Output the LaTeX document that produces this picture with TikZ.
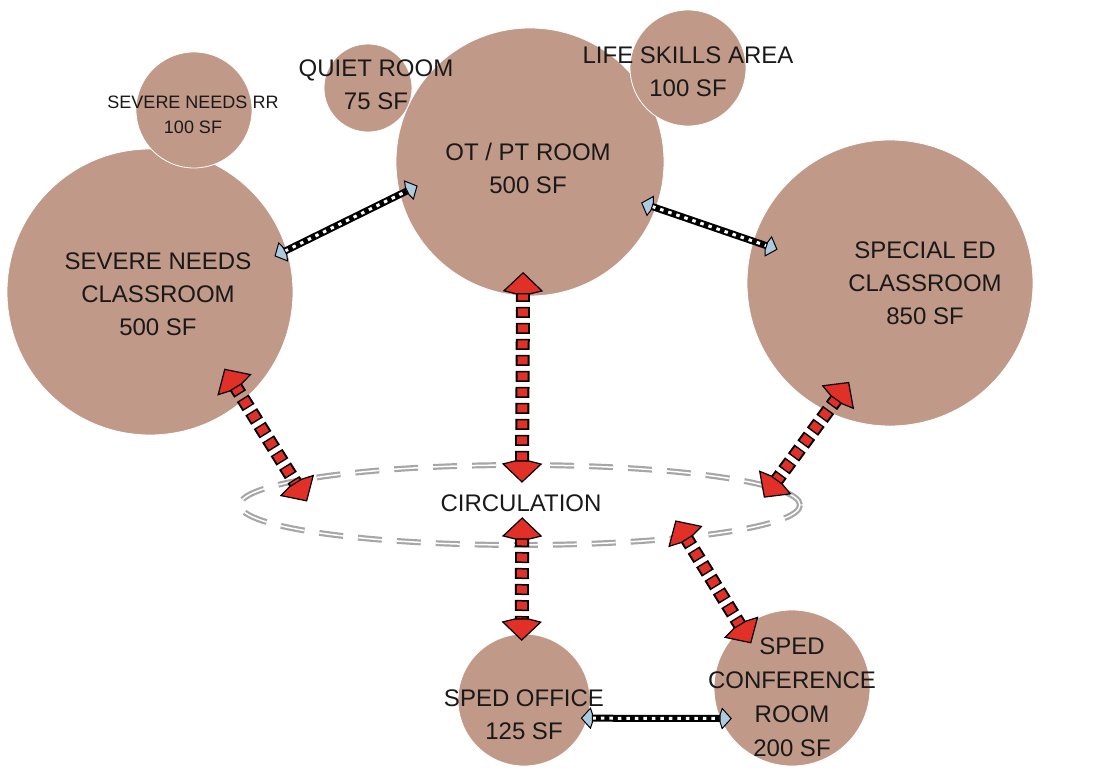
\documentclass[tikz,border=0pt]{standalone}
\usepackage{fontspec}
\setmainfont{Liberation Sans}
\usetikzlibrary{calc,shapes.geometric,decorations.markings}
\definecolor{roomfill}{RGB}{193,153,136}
\definecolor{linkred}{RGB}{224,48,40}
\definecolor{linkblue}{RGB}{172,202,224}
\tikzset{
  room/.style={circle, fill=roomfill, draw=white, line width=0.8pt, inner sep=0pt, outer sep=0pt},
  roomtext/.style={align=center, text=black!90, font=\fontsize{24}{33}\selectfont},
  smalltext/.style={align=center, text=black!90, font=\fontsize{18}{25}\selectfont},
  circ/.style={ellipse, draw=gray!70, double=white, double distance=1.5pt, line width=2.2pt,
    dash pattern=on 24pt off 15pt, inner sep=0pt, outer sep=0pt},
  redhead/.style={fill=linkred, draw=black, line width=1.2pt, line join=miter},
  bluehead/.style={fill=linkblue, draw=black, line width=1pt, line join=miter},
  redlink/.style={
    preaction={draw=black, line width=14pt, dash pattern=on 11pt off 5pt,
      shorten <=18pt, shorten >=18pt},
    preaction={draw=linkred, line width=10pt, dash pattern=on 8pt off 8pt, dash phase=14.5pt,
      shorten <=18pt, shorten >=18pt},
    postaction={decorate, decoration={markings,
      mark=at position 0 with {\filldraw[redhead] (0,0) -- (18,19) -- (21,7) -- (21,-7) -- (18,-19) -- cycle;},
      mark=at position 1 with {\filldraw[redhead] (0,0) -- (-18,19) -- (-21,7) -- (-21,-7) -- (-18,-19) -- cycle;}}}},
  bluelink/.style={
    preaction={draw=black, line width=7pt, shorten <=9pt, shorten >=9pt},
    preaction={draw=white, line width=3pt, dash pattern=on 3.5pt off 5pt,
      shorten <=11pt, shorten >=11pt},
    postaction={decorate, decoration={markings,
      mark=at position 0 with {\filldraw[bluehead] (0,0) -- (9,10) -- (11,4) -- (11,-4) -- (9,-10) -- cycle;},
      mark=at position 1 with {\filldraw[bluehead] (0,0) -- (-9,10) -- (-11,4) -- (-11,-4) -- (-9,-10) -- cycle;}}}}
}
\begin{document}
\begin{tikzpicture}[x=1pt,y=-1pt]
  \useasboundingbox (0,0) rectangle (1095,778);
  % rooms
  \node[room, minimum size=286pt] (sncls) at (150,292) {};
  \node[room, minimum size=268pt] (otpt) at (530,162) {};
  \node[room, minimum size=286pt] (spedcls) at (890,283) {};
  \node[room, minimum size=116pt] (rr) at (194,110) {};
  \node[room, minimum size=88pt] (quiet) at (368,88) {};
  \node[room, minimum size=116pt] (life) at (688,68) {};
  \node[room, minimum size=132pt] (office) at (524,700) {};
  \node[room, minimum size=156pt] (conf) at (792,688) {};
  % circulation
  \node[circ, minimum width=560pt, minimum height=80pt] (circ) at (520,505) {};
  % red links
  \path[redlink] ($(sncls.-49)!-36pt!(circ.174)$) -- ($(circ.174)!-23pt!(sncls.-49)$);
  \path[redlink] ($(otpt.-93)!-23pt!(circ.87)$) -- ($(circ.87)!-17pt!(otpt.-93)$);
  \path[redlink] ($(spedcls.-116)!-36pt!(circ.4)$) -- ($(circ.4)!-12pt!(spedcls.-116)$);
  \path[redlink] ($(circ.-87)!-27pt!(office.92)$) -- ($(office.92)!-6pt!(circ.-87)$);
  \path[redlink] ($(circ.-11)!-19pt!(conf.130)$) -- ($(conf.130)!-17pt!(circ.-11)$);
  % blue links
  \path[bluelink] ($(sncls.17)!-13pt!(otpt.-166)$) -- ($(otpt.-166)!-19pt!(sncls.17)$);
  \path[bluelink] ($(otpt.-20)!-15pt!(spedcls.163)$) -- ($(spedcls.163)!-25pt!(otpt.-20)$);
  \path[bluelink] ($(office.-16)!-6pt!(conf.203)$) -- ($(conf.203)!-11pt!(office.-16)$);
  % labels
  \node[smalltext] (rr-t) at (193,115) {SEVERE NEEDS RR\\100 SF};
  \node[roomtext] (quiet-t) at (376,85) {QUIET ROOM\\75 SF};
  \node[roomtext] (otpt-t) at (528,168) {OT / PT ROOM\\500 SF};
  \node[roomtext] (life-t) at (688,72) {LIFE SKILLS AREA\\100 SF};
  \node[roomtext] (sncls-t) at (158,294) {SEVERE NEEDS\\CLASSROOM\\500 SF};
  \node[roomtext] (spedcls-t) at (925,283) {SPECIAL ED\\CLASSROOM\\850 SF};
  \node[roomtext] (circ-t) at (521,503) {CIRCULATION};
  \node[roomtext] (office-t) at (524,715) {SPED OFFICE\\125 SF};
  \node[roomtext, font=\fontsize{24}{34}\selectfont] (conf-t) at (792,697) {SPED\\CONFERENCE\\ROOM\\200 SF};
\end{tikzpicture}
\end{document}
